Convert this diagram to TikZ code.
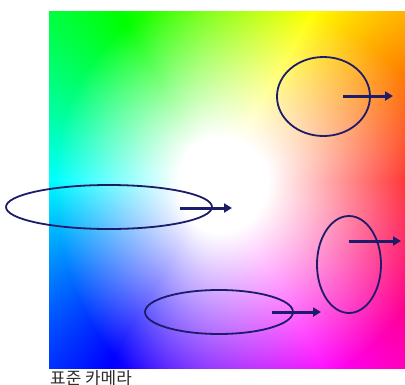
\documentclass[tikz,border=0pt]{standalone}
\usepackage{fontspec}
\newfontfamily\hangul{Noto Sans CJK KR}
\usetikzlibrary{arrows.meta,shapes.geometric}
\definecolor{ringblue}{RGB}{28,28,105}
\definecolor{labelgray}{RGB}{45,45,45}
\pgfdeclarefunctionalshading{gamut}{\pgfpointorigin}{\pgfpoint{357bp}{358bp}}{}{
188.3 sub exch 167.3 sub exch
2 copy
dup 0 gt {142 div} {175 div} ifelse dup mul
exch dup 0 lt {124 div} {175 div} ifelse dup mul add sqrt
3 1 roll exch atan
exch 0.3 sub dup 0 lt {pop 0} if dup 1 gt {pop 1} if
exch 60 div
dup 3 sub abs 1 sub dup 0 lt {pop 0} if dup 1 gt {pop 1} if
exch dup 2 sub abs 2 exch sub dup 0 lt {pop 0} if dup 1 gt {pop 1} if
exch 4 sub abs 2 exch sub dup 0 lt {pop 0} if dup 1 gt {pop 1} if
4 -1 roll
exch 1 exch sub 1 index mul 1 exch sub 4 1 roll
exch 1 exch sub 1 index mul 1 exch sub 4 1 roll
exch 1 exch sub 1 index mul 1 exch sub 4 1 roll
pop
}

\begin{document}
\begin{tikzpicture}[x=1bp,y=-1bp,>={Triangle[length=8bp,width=9bp]},line cap=round,line join=round,
  ring/.style={draw=ringblue,line width=1.8bp,ellipse,inner sep=0pt},
  shift arrow/.style={->,draw=ringblue,line width=3bp,line cap=butt}]
\useasboundingbox (0,0) rectangle (405,385);
\node[inner sep=0pt,anchor=north west] (field) at (48.5,10) {\pgfuseshading{gamut}};
% ellipses
\node[ring,minimum width=93bp,minimum height=79bp] (top) at (323.5,96.5) {};
\node[ring,minimum width=206bp,minimum height=44bp] (left) at (109,207) {};
\node[ring,minimum width=64bp,minimum height=97bp] (right) at (349,264.5) {};
\node[ring,minimum width=148bp,minimum height=44bp] (bottom) at (219,312) {};
% arrows
\coordinate (top a) at (343,96);
\coordinate (top b) at (393,96);
\coordinate (left a) at (180,208);
\coordinate (left b) at (232,208);
\coordinate (right a) at (349,241);
\coordinate (right b) at (401,241);
\coordinate (bottom a) at (272,312);
\coordinate (bottom b) at (321,312);
\draw[shift arrow] (top a) -- (top b);
\draw[shift arrow] (left a) -- (left b);
\draw[shift arrow] (right a) -- (right b);
\draw[shift arrow] (bottom a) -- (bottom b);
\node[anchor=west,inner sep=0pt,text=labelgray,font=\hangul\fontsize{17}{19}\selectfont] (caption) at (50,378) {표준 카메라};
\end{tikzpicture}
\end{document}
